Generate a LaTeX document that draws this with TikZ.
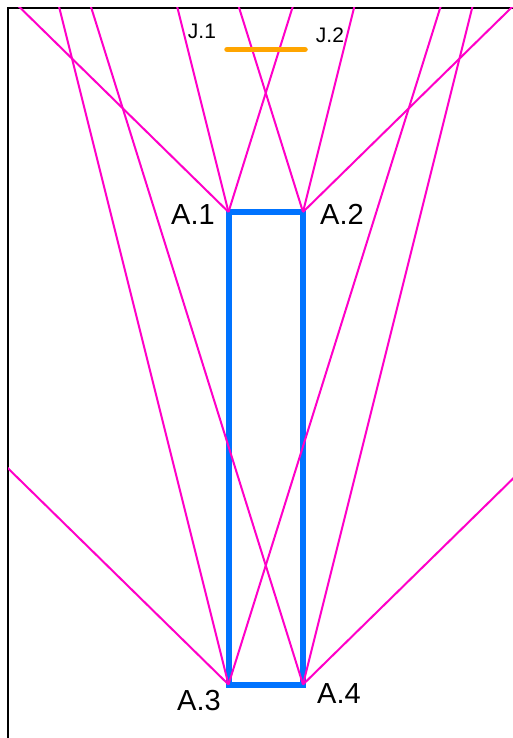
\documentclass[tikz,border=0pt]{standalone}
\usepackage{fontspec}
\setmainfont{Liberation Sans}
\definecolor{wallblue}{RGB}{0,115,255}
\definecolor{raypink}{RGB}{255,0,200}
\definecolor{jorange}{RGB}{255,165,0}
\begin{document}
\begin{tikzpicture}[x=1pt, y=-1pt,
  wall/.style={draw=wallblue, line width=6pt},
  ray/.style={draw=raypink, line width=2pt},
  joint/.style={draw=jorange, line width=5.5pt, line cap=round},
  albl/.style={font=\fontsize{29}{29}\selectfont, inner sep=0pt},
  jlbl/.style={font=\fontsize{21}{21}\selectfont, inner sep=0pt}]
  \useasboundingbox (0,0) rectangle (513,738);

  % corners of the wall
  \coordinate (A1) at (228.5,212);
  \coordinate (A2) at (303,212);
  \coordinate (A3) at (228.5,684.5);
  \coordinate (A4) at (303,684.5);
  \coordinate (J1) at (227,49.5);
  \coordinate (J2) at (305,49.5);

  % frame
  \draw[black, line width=1.5pt] (8,900) -- (8,8) -- (900,8);

  \begin{scope}
    \clip (8,8) rectangle (900,900);
    \draw[wall] (A1) -- (A2) -- (A4) -- (A3) -- cycle;
    % rays from the corners
    \foreach \c in {A1,A3} {
      \draw[ray] (\c) -- ++(-714,-700);
      \draw[ray] (\c) -- ++(-175,-700);
      \draw[ray] (\c) -- ++(219,-700);
    }
    \foreach \c in {A2,A4} {
      \draw[ray] (\c) -- ++(714,-700);
      \draw[ray] (\c) -- ++(175,-700);
      \draw[ray] (\c) -- ++(-219,-700);
    }
    \draw[joint] (J1) -- (J2);
  \end{scope}

  \node[albl] (a1) at (193,215) {A.1};
  \node[albl] (a2) at (342,214) {A.2};
  \node[albl] (a3) at (199,701) {A.3};
  \node[albl] (a4) at (339,694) {A.4};
  \node[jlbl] (j1) at (202,31) {J.1};
  \node[jlbl] (j2) at (330,35.5) {J.2};
\end{tikzpicture}
\end{document}
